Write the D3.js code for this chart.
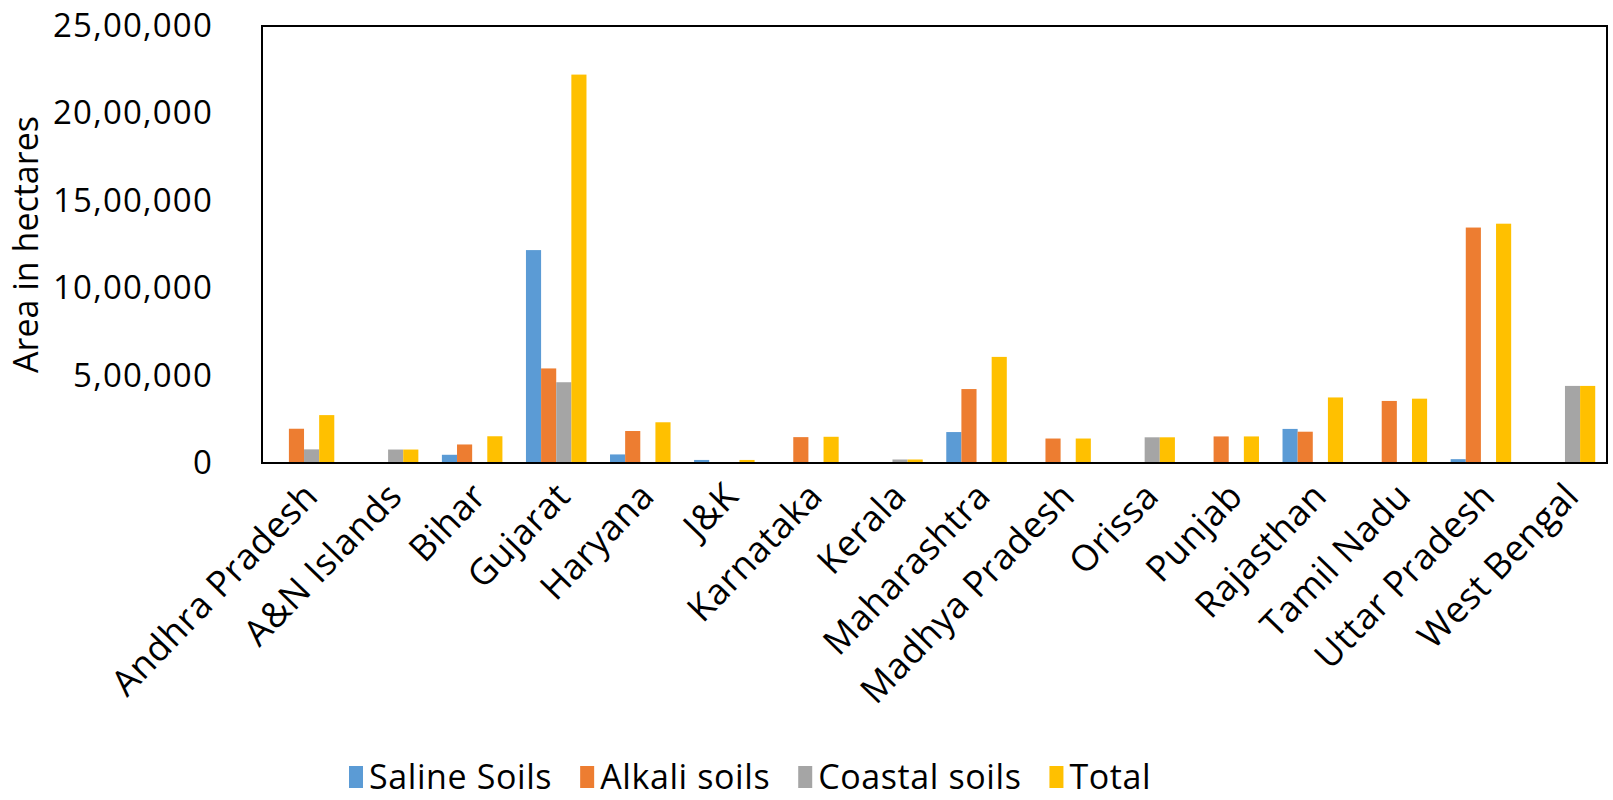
<!DOCTYPE html>
<html>
<head>
<meta charset="utf-8">
<script src="https://cdn.jsdelivr.net/npm/d3@7"></script>
<style>
  body { margin: 0; background: #fff; }
  svg text { font-family: "Open Sans", sans-serif; fill: #000; }
</style>
</head>
<body>
<div id="chart"></div>
<script>
var states = ["Andhra Pradesh", "A&N Islands", "Bihar", "Gujarat", "Haryana", "J&K", "Karnataka", "Kerala",
  "Maharashtra", "Madhya Pradesh", "Orissa", "Punjab", "Rajasthan", "Tamil Nadu", "Uttar Pradesh", "West Bengal"];

var saline  = [0, 0, 47000, 1218000, 49000, 17500, 0, 0, 177000, 0, 0, 0, 195000, 0, 22000, 0];
var alkali  = [196000, 0, 106000, 541000, 183000, 0, 148000, 0, 423000, 140000, 0, 152000, 179000, 355000, 1347000, 0];
var coastal = [78000, 77000, 0, 462000, 0, 0, 0, 20000, 0, 0, 147000, 0, 0, 0, 0, 441000];
var total   = [274000, 77000, 153000, 2222000, 233000, 17500, 150000, 20000, 607000, 140000, 147000, 152000, 375000, 368000, 1369000, 441000];

var seriesNames = ["Saline Soils", "Alkali soils", "Coastal soils", "Total"];
var seriesColors = ["#5B9BD5", "#ED7D31", "#A5A5A5", "#FFC000"];
var yTicks = [0, 500000, 1000000, 1500000, 2000000, 2500000];

var W = 1613, H = 800;
// plot box (window.top is reserved, so p* names)
var pLeft = 262, pRight = 1607, pTop = 26, pBottom = 463;

var svg = d3.select("#chart").append("svg")
    .attr("width", W)
    .attr("height", H);

var series = [saline, alkali, coastal, total];
var rows = states.map(function(s, i) {
    return {state: s, vals: series.map(function(arr, k) { return {k: k, v: arr[i]}; })};
});

var x0 = d3.scaleBand().domain(states).range([pLeft, pRight]).paddingInner(0.28).paddingOuter(0.14);
var x1 = d3.scaleBand().domain(d3.range(4)).range([0, x0.bandwidth()]);
var y = d3.scaleLinear().domain([0, 2500000]).range([pBottom, pTop]);

// indian grouping 25,00,000
function lakhFmt(v) {
    if (v == 0) return "0";
    var s = String(v);
    var last3 = s.slice(-3), rest = s.slice(0, -3);
    rest = rest.replace(/\B(?=(\d{2})+(?!\d))/g, ",");
    return rest + "," + last3;
}

// bars
var groups = svg.selectAll(".grp")
    .data(rows)
    .enter().append("g")
    .attr("class", "grp")
    .attr("transform", function(d) { return "translate(" + x0(d.state) + ",0)"; });

groups.selectAll("rect")
    .data(function(d) { return d.vals; })
    .enter().append("rect")
    .attr("x", function(d) { return x1(d.k); })
    .attr("width", x1.bandwidth())
    .attr("y", function(d) { return y(d.v); })
    .attr("height", function(d) { return pBottom - y(d.v); })
    .style("fill", function(d) { return seriesColors[d.k]; });

// frame
svg.append("rect")
    .attr("x", pLeft).attr("y", pTop)
    .attr("width", pRight - pLeft).attr("height", pBottom - pTop)
    .style("fill", "none")
    .style("stroke", "#000")
    .style("stroke-width", 2);

// y axis
var yAxis = svg.append("g")
    .attr("transform", "translate(" + pLeft + ",0)")
    .call(d3.axisLeft(y).tickValues(yTicks).tickFormat(lakhFmt).tickSize(0).tickPadding(49));
yAxis.select(".domain").remove();
yAxis.selectAll("text")
    .style("font-family", "'Open Sans', sans-serif")
    .style("font-size", "33px")
    .style("letter-spacing", "1.2px")
    .attr("fill", "#000");

// x axis labels
var xAxis = svg.append("g")
    .attr("transform", "translate(0," + pBottom + ")")
    .call(d3.axisBottom(x0).tickSize(0).tickPadding(0));
xAxis.select(".domain").remove();
xAxis.selectAll("text")
    .style("font-family", "'Open Sans', sans-serif")
    .style("font-size", "36px")
    .style("letter-spacing", "0.5px")
    .attr("fill", "#000")
    .attr("dy", 0)
    .attr("y", 0)
    .style("text-anchor", "end")
    .attr("transform", "translate(16,35) rotate(-46)");

// y title
svg.append("text")
    .attr("transform", "translate(38," + ((pTop + pBottom) / 2) + ") rotate(-90)")
    .style("text-anchor", "middle")
    .style("font-size", "34px")
    .text("Area in hectares");

// legend
var legend = svg.append("g").attr("class", "legend");
var swatches = [], labels = [];
seriesNames.forEach(function(name, k) {
    swatches.push(legend.append("rect")
        .attr("y", 766)
        .attr("width", 14).attr("height", 22)
        .style("fill", seriesColors[k]));
    labels.push(legend.append("text")
        .attr("y", 777)
        .attr("dy", "0.35em")
        .style("font-size", "34px")
        .style("letter-spacing", "0.6px")
        .text(name));
});

function layoutLegend() {
    var lx = 349;
    seriesNames.forEach(function(name, k) {
        swatches[k].attr("x", lx);
        labels[k].attr("x", lx + 20);
        lx = lx + 20 + labels[k].node().getBBox().width + 28;
    });
}
layoutLegend();
// measure again once the font is really there
if (document.fonts) {
    document.fonts.ready.then(layoutLegend);
}
</script>
</body>
</html>
